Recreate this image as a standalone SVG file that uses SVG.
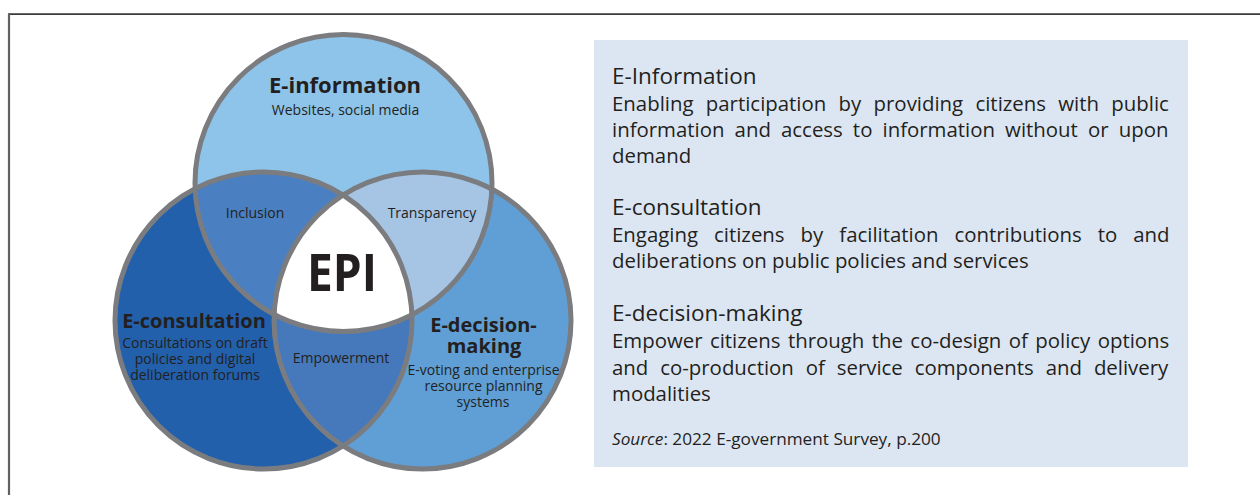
<svg xmlns="http://www.w3.org/2000/svg" width="1260" height="495" viewBox="0 0 1260 495">
  <style>
    .ttl { font-family: "Open Sans", "Liberation Sans", sans-serif; font-weight: 700; fill: #231f20; text-anchor: middle; }
    .sub { font-family: "Open Sans", "Liberation Sans", sans-serif; font-size: 14px; fill: #231f20; text-anchor: middle; }
    .ring { fill: none; stroke: #7b7c7f; stroke-width: 5; }
    .head { font-family: "Open Sans", "Liberation Sans", sans-serif; font-size: 22.5px; fill: #231f20; }
    .body { font-family: "Open Sans", "Liberation Sans", sans-serif; font-size: 20.4px; fill: #231f20; }
    .src { font-family: "Open Sans", "Liberation Sans", sans-serif; font-size: 17.2px; fill: #231f20; }
  </style>
  <defs>
    <clipPath id="clipTop"><circle cx="343.5" cy="183" r="148.5"/></clipPath>
    <clipPath id="clipLeft"><circle cx="263.5" cy="320.5" r="148.5"/></clipPath>
  </defs>

  <rect width="1260" height="495" fill="#ffffff"/>

  <!-- frame -->
  <line x1="8" y1="14.2" x2="1260" y2="14.2" stroke="#3a3a3a" stroke-width="1.8"/>
  <line x1="9" y1="14" x2="9" y2="495" stroke="#616161" stroke-width="2.2"/>

  <!-- venn fills -->
  <g id="e-information">
    <circle cx="343.5" cy="183" r="148.5" fill="#8ec4e9"/>
  </g>
  <g id="e-consultation">
    <circle cx="263.5" cy="320.5" r="148.5" fill="#2260ac"/>
  </g>
  <g id="e-decision-making">
    <circle cx="422.5" cy="320.5" r="148.5" fill="#5f9fd6"/>
  </g>
  <g id="inclusion">
    <circle cx="263.5" cy="320.5" r="148.5" fill="#4a7fc1" clip-path="url(#clipTop)"/>
  </g>
  <g id="transparency">
    <circle cx="422.5" cy="320.5" r="148.5" fill="#a6c4e4" clip-path="url(#clipTop)"/>
  </g>
  <g id="empowerment">
    <circle cx="422.5" cy="320.5" r="148.5" fill="#4679bc" clip-path="url(#clipLeft)"/>
  </g>
  <g id="epi">
    <g clip-path="url(#clipTop)">
      <circle cx="422.5" cy="320.5" r="148.5" fill="#ffffff" clip-path="url(#clipLeft)"/>
    </g>
  </g>

  <!-- circle outlines -->
  <g id="rings">
    <circle class="ring" cx="343.5" cy="183" r="148.5"/>
    <circle class="ring" cx="263.5" cy="320.5" r="148.5"/>
    <circle class="ring" cx="422.5" cy="320.5" r="148.5"/>
  </g>

  <!-- venn labels -->
  <g id="labels">
    <text class="ttl" x="345" y="93" font-size="22">E-information</text>
    <text class="sub" x="345.5" y="115" font-size="14.5">Websites, social media</text>

    <text class="sub" x="255" y="218">Inclusion</text>
    <text class="sub" x="432" y="218">Transparency</text>

    <text class="ttl" x="342" y="290.5" font-size="52" textLength="70" lengthAdjust="spacingAndGlyphs">EPI</text>

    <text class="ttl" x="194" y="328" font-size="20">E-consultation</text>
    <text class="sub" x="195" y="348">Consultations on draft</text>
    <text class="sub" x="195" y="364">policies and digital</text>
    <text class="sub" x="195" y="380">deliberation forums</text>

    <text class="sub" x="341" y="363">Empowerment</text>

    <text class="ttl" x="483.5" y="332" font-size="20">E-decision-</text>
    <text class="ttl" x="484" y="353" font-size="20">making</text>
    <text class="sub" x="483.5" y="375">E-voting and enterprise</text>
    <text class="sub" x="483.5" y="391">resource planning</text>
    <text class="sub" x="483" y="407">systems</text>
  </g>

  <!-- description panel -->
  <g id="panel">
    <rect x="594" y="40" width="594" height="427" fill="#dce6f3"/>

    <text class="head" x="612" y="84">E-Information</text>
    <text class="body" x="612" y="111" word-spacing="7.0">Enabling participation by providing citizens with public</text>
    <text class="body" x="612" y="137" word-spacing="4.8">information and access to information without or upon</text>
    <text class="body" x="612" y="163">demand</text>

    <text class="head" x="612" y="215">E-consultation</text>
    <text class="body" x="612" y="242" word-spacing="10.7">Engaging citizens by facilitation contributions to and</text>
    <text class="body" x="612" y="268">deliberations on public policies and services</text>

    <text class="head" x="612" y="321">E-decision-making</text>
    <text class="body" x="612" y="348" word-spacing="2.1">Empower citizens through the co-design of policy options</text>
    <text class="body" x="612" y="375" word-spacing="6.6">and co-production of service components and delivery</text>
    <text class="body" x="612" y="401">modalities</text>

    <text class="src" x="612" y="445"><tspan font-style="italic">Source</tspan>: 2022 E-government Survey, p.200</text>
  </g>
</svg>
